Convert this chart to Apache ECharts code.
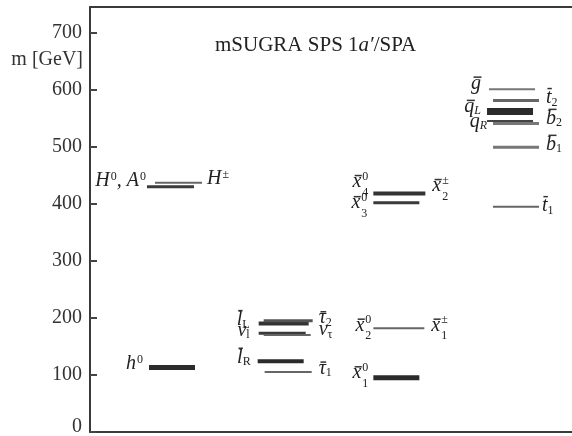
<!DOCTYPE html>
<html><head><meta charset="utf-8">
<script src="https://cdn.jsdelivr.net/npm/echarts@6/dist/echarts.min.js"></script>
<style>html,body{margin:0;padding:0;background:#fff}#c{width:572px;height:436px}</style>
</head><body><div id="c"></div>
<script>
// ---- data ----
const groups = ['Higgs', 'Sleptons', 'Neutralinos/Charginos', 'Squarks/Gluino'];
const particles = ['h0','H0A0','Hpm','lL','tau2','nul','nutau','lR','tau1','chi4','chi3','chi2','chi1','gluino','t2','qL','qR','b2','b1','t1'];
const groupOf = [0,0,0, 1,1,1,1,1,1, 2,2,2,2, 3,3,3,3,3,3,3];
const massGeV = [113,430,437, 190,195,173,170,124,105, 418,402,182,95, 601,581,562,545,541,499,395];
// markup: ~ overbar on next letter, ^ superscript, _ roman subscript, | italic subscript
const leftLabels  = ['h^0','H^0, A^0','', '~l_L','','ν_l','','~l_R','', '~x^0_4','~x^0_3','~x^0_2','~x^0_1', '~g','','~q|L','q|R','','',''];
const rightLabels = ['','','H^±', '','~τ_2','','ν_τ','','~τ_1', '~x^±_2','','~x^±_1','', '','~t_2','','','~b_2','~b_1','~t_1'];
const yTicks = [0,100,200,300,400,500,600,700];
const yName = 'm [GeV]';
const titleParts = ['mSUGRA SPS 1', 'a′', '/SPA'];

// ---- styles (positions relative to the level, in px) ----
const COL_OFFSET = 82; // px from the axis to the centre of the first column
// [dx0, dx1, lineWidth, color, leftGap, leftDy, rightGap, rightDy]
const levelStyle = [
  [-23,23,5,'#2b2b2b', 6,3, 0,0],
  [-25,22,3,'#3a3a3a', 1,1, 0,0],
  [-17,30,2,'#666', 0,0, 5,3],
  [-27,23,4,'#333', 9,3, 0,0],
  [-22,27,3,'#555', 0,0, 6,4],
  [-27,20,3,'#3a3a3a', 9,4, 0,0],
  [-22,25,2,'#666', 0,0, 8,2],
  [-28,18,4,'#2b2b2b', 7,3, 0,0],
  [-21,26,2,'#666', 0,0, 7,3],
  [-26,26,4,'#333', 5,-5, 7,-1],
  [-26,20,3,'#3a3a3a', 6,7, 0,0],
  [-26,25,2,'#666', 2,4, 7,4],
  [-26,20,5,'#2b2b2b', 5,2, 0,0],
  [-24,22,2,'#777', 8,1, 0,0],
  [-20,26,3,'#666', 0,0, 7,4],
  [-26,20,7,'#2b2b2b', 6,2, 0,0],
  [-26,20,2,'#444', 0,7, 0,0],
  [-20,26,3,'#777', 0,0, 7,2],
  [-20,26,3,'#777', 0,0, 7,4],
  [-20,26,2,'#666', 0,0, 3,6]
];
const SERIF = '"Liberation Serif", "DejaVu Serif", serif';
const BASE_FS = 20, SCRIPT_FS = 12;
const TXT = '#222';
const FRAME = '#3a3a3a';
const mctx = document.createElement('canvas').getContext('2d');
function fontStr(italic, fs) { return (italic ? 'italic ' : '') + fs + 'px ' + SERIF; }
function measure(t, italic, fs) { mctx.font = fontStr(italic, fs); return mctx.measureText(t).width; }

function parse(m) {
  const toks = []; let bar = false;
  for (let k = 0; k < m.length; k++) {
    const c = m[k];
    if (c === '~') { bar = true; continue; }
    if (c === '^') { toks.push({t: m[++k], kind: 'p'}); continue; }
    if (c === '_') { toks.push({t: m[++k], kind: 's', it: false}); continue; }
    if (c === '|') { toks.push({t: m[++k], kind: 's', it: true}); continue; }
    toks.push({t: c, kind: 'b', bar: bar}); bar = false;
  }
  return toks;
}
function buildLabel(markup, x, baseline, align) {
  const toks = parse(markup);
  const items = []; let cx = 0;
  for (let k = 0; k < toks.length; k++) {
    const tk = toks[k];
    if (tk.kind === 'b') {
      const w = measure(tk.t, true, BASE_FS);
      items.push({t: tk.t, x: cx, y: baseline, fs: BASE_FS, it: true, bar: tk.bar, w: w});
      cx += w;
    } else if (tk.kind === 'p') {
      const wp = measure(tk.t, false, SCRIPT_FS);
      const nx = toks[k + 1];
      if (nx && nx.kind === 's') {
        const ws = measure(nx.t, nx.it, SCRIPT_FS);
        items.push({t: tk.t, x: cx + 1, y: baseline - 8, fs: SCRIPT_FS, it: false});
        items.push({t: nx.t, x: cx + 1, y: baseline + 8, fs: SCRIPT_FS, it: nx.it});
        cx += Math.max(wp, ws) + 1; k++;
      } else {
        items.push({t: tk.t, x: cx + 1, y: baseline - 7, fs: SCRIPT_FS, it: false});
        cx += wp + 1;
      }
    } else {
      const ws = measure(tk.t, tk.it, SCRIPT_FS);
      items.push({t: tk.t, x: cx, y: baseline + 2, fs: SCRIPT_FS, it: tk.it});
      cx += ws;
    }
  }
  const ox = align === 'right' ? x - cx : x;
  const els = [];
  items.forEach(function (it) {
    els.push({type: 'text', x: ox + it.x, y: it.y - 0.34 * it.fs,
      style: {text: it.t, font: fontStr(it.it, it.fs), fill: TXT, align: 'left', verticalAlign: 'middle'}});
    if (it.bar) {
      const tall = 'lbth'.indexOf(it.t) >= 0;
      const by = it.y - (tall ? 16 : 13);
      els.push({type: 'line', shape: {x1: ox + it.x + it.w * 0.25, y1: by, x2: ox + it.x + it.w * 1.05, y2: by},
        style: {stroke: '#333', lineWidth: 1.5}});
    }
  });
  return els;
}

const seriesData = particles.map(function (p, i) { return [groupOf[i], massGeV[i], i]; });
const frameXAxis = function (pos) {
  return {type: 'value', position: pos, min: 0, max: 4.293,
    axisLine: {show: true, onZero: false, lineStyle: {color: FRAME, width: 2}},
    axisTick: {show: false}, axisLabel: {show: false}, splitLine: {show: false}};
};

const chart = echarts.init(document.getElementById('c'), null, {renderer: 'canvas'});
chart.setOption({
  animation: false,
  backgroundColor: '#fff',
  grid: {left: 90, right: -6, top: 7, bottom: 4, show: false, containLabel: false, outerBoundsMode: 'none'},
  xAxis: [frameXAxis('bottom'), frameXAxis('top')],
  yAxis: {type: 'value', position: 'left', min: 0, max: 745, interval: 100, splitLine: {show: false},
    axisLine: {show: true, lineStyle: {color: FRAME, width: 2}},
    axisTick: {show: true, inside: true, length: 7, lineStyle: {color: '#444', width: 2}},
    axisLabel: {margin: 8, showMaxLabel: false, color: '#333', fontFamily: SERIF, fontSize: 20,
      rich: {z: {fontFamily: SERIF, fontSize: 20, color: '#333', padding: [0, 0, 10, 0]}},
      formatter: function (v) {
        if (yTicks.indexOf(v) < 0) return '';
        return v === yTicks[0] ? '{z|' + v + '}' : String(v);
      }}},
  graphic: [
    {type: 'text', x: 83, y: 60, style: {text: yName, font: '20px ' + SERIF, fill: '#333', align: 'right', verticalAlign: 'middle'}},
    {type: 'text', x: 215, y: 45, style: {
      text: '{n|' + titleParts[0] + '}{i|' + titleParts[1] + '}{n|' + titleParts[2] + '}',
      verticalAlign: 'middle', align: 'left',
      rich: {n: {fontFamily: SERIF, fontSize: 21, fill: '#222', color: '#222'},
             i: {fontFamily: SERIF, fontSize: 21, fontStyle: 'italic', fill: '#222', color: '#222'}}}}
  ],
  series: [{
    type: 'custom',
    coordinateSystem: 'cartesian2d',
    xAxisIndex: 0,
    data: seriesData,
    encode: {x: 0, y: 1},
    renderItem: function (params, api) {
      const i = api.value(2);
      const p = api.coord([api.value(0), api.value(1)]);
      const cxp = p[0] + COL_OFFSET;
      const L = levelStyle[i];
      const ch = [{type: 'line', shape: {x1: cxp + L[0], y1: p[1], x2: cxp + L[1], y2: p[1]},
        style: {stroke: L[3], lineWidth: L[2]}}];
      if (leftLabels[i]) Array.prototype.push.apply(ch, buildLabel(leftLabels[i], cxp + L[0] - L[4], p[1] + L[5], 'right'));
      if (rightLabels[i]) Array.prototype.push.apply(ch, buildLabel(rightLabels[i], cxp + L[1] + L[6], p[1] + L[7], 'left'));
      return {type: 'group', children: ch};
    }
  }]
});
</script></body></html>
